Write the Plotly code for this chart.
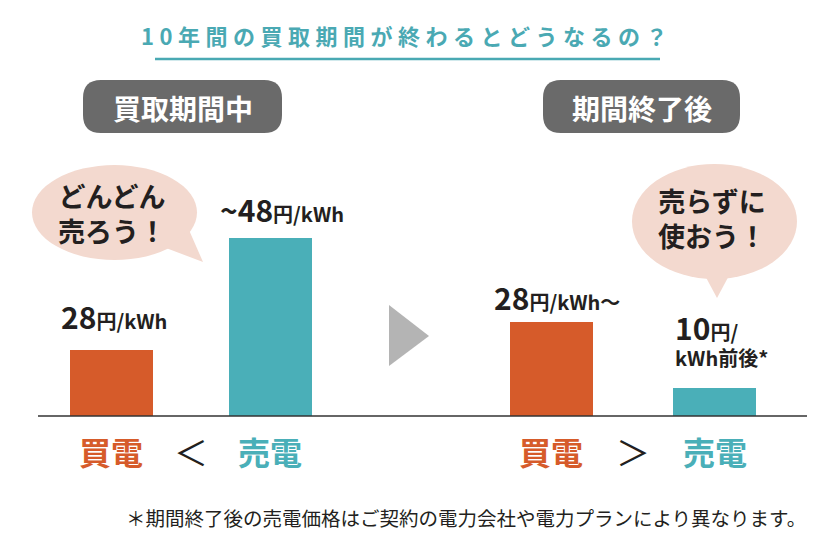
import plotly.graph_objects as go

W, H = 820, 544

# ---------------- data ----------------
categories = ["買電", "売電"]
during_values = [28, 48]      # 円/kWh, 買取期間中
after_values = [28, 10]       # 円/kWh, 期間終了後
bar_colors = ["#d65b2a", "#4aafb8"]
panel_titles = ["買取期間中", "期間終了後"]
bubble_texts = ["どんどん<br>売ろう！", "売らずに<br>使おう！"]
compare_signs = ["＜", "＞"]
title_text = "10年間の買取期間が終わるとどうなるの？"
footnote_text = "＊期間終了後の売電価格はご契約の電力会社や電力プランにより異なります。"

FONT = "Noto Sans CJK JP"
TEAL = "#4aa9b3"
DARK = "#231f20"


def X(px):
    return px / W


def Y(py):
    return 1 - py / H


def price_label(v, pre="", post="", second_line=None, pre_size=30):
    pre_html = f"<span style='font-size:{pre_size}px'>{pre}</span>" if pre else ""
    big = f"{pre_html}<span style='font-size:30px'>{v}</span>"
    if second_line:
        return f"<b>{big}円/</b><br><b>{second_line}</b>"
    return f"<b>{big}円/kWh{post}</b>"


fig = go.Figure()

panels = [
    dict(vals=during_values, xa="x", ya="y",
         labels=[price_label(during_values[0]), price_label(during_values[1], pre="~", pre_size=30)],
         xshift=[3, 12], yshift=[34, 29], anchor=["center", "center"], width=0.52),
    dict(vals=after_values, xa="x2", ya="y2",
         labels=[price_label(after_values[0], post="〜"),
                 price_label(after_values[1], second_line="kWh前後*")],
         xshift=[6, -41.5], yshift=[25, 50], anchor=["center", "left"], width=0.508),
]

annotations = []
for i, p in enumerate(panels):
    fig.add_trace(go.Bar(
        x=categories, y=p["vals"], marker=dict(color=bar_colors, line=dict(width=0)),
        width=p["width"], xaxis=p["xa"], yaxis=p["ya"], hoverinfo="skip", showlegend=False,
    ))
    for j, (c, v) in enumerate(zip(categories, p["vals"])):
        annotations.append(dict(
            x=c, y=v, xref=p["xa"], yref=p["ya"], text=p["labels"][j], showarrow=False,
            xanchor=p["anchor"][j], yanchor="middle", align="left",
            xshift=p["xshift"][j], yshift=p["yshift"][j],
            font=dict(family=FONT, size=20, color=DARK),
        ))
        annotations.append(dict(
            x=c, y=Y(451), xref=p["xa"], yref="paper", text=f"<b>{c}</b>", showarrow=False,
            xanchor="center", yanchor="middle",
            font=dict(family=FONT, size=32, color=bar_colors[j]),
        ))
    annotations.append(dict(
        x=0.5, y=Y(451), xref=p["xa"], yref="paper", text=compare_signs[i], showarrow=False,
        xanchor="center", yanchor="middle",
        font=dict(family=FONT, size=34, color=DARK),
    ))

# panel title pills
def rrect(x0, y0, x1, y1, r):
    pts = [
        ("M", [(x0 + r, y0)]), ("L", [(x1 - r, y0)]), ("Q", [(x1, y0), (x1, y0 + r)]),
        ("L", [(x1, y1 - r)]), ("Q", [(x1, y1), (x1 - r, y1)]), ("L", [(x0 + r, y1)]),
        ("Q", [(x0, y1), (x0, y1 - r)]), ("L", [(x0, y0 + r)]), ("Q", [(x0, y0), (x0 + r, y0)]),
    ]
    s = ""
    for cmd, cs in pts:
        s += cmd + " " + " ".join(f"{X(a):.5f},{Y(b):.5f}" for a, b in cs) + " "
    return s + "Z"


def poly(points):
    return "M " + " L ".join(f"{X(a):.5f},{Y(b):.5f}" for a, b in points) + " Z"


shapes = []
pill_boxes = [(83, 80, 282, 133), (543, 80, 740, 133)]
for (x0, y0, x1, y1), t in zip(pill_boxes, panel_titles):
    shapes.append(dict(type="path", xref="paper", yref="paper", path=rrect(x0, y0, x1, y1, 18),
                       fillcolor="#6a6a6a", line=dict(width=0)))
    annotations.append(dict(x=X((x0 + x1) / 2), y=Y((y0 + y1) / 2 + 1), xref="paper", yref="paper",
                            text=f"<b>{t}</b>", showarrow=False, xanchor="center", yanchor="middle",
                            font=dict(family=FONT, size=28, color="white")))

# speech bubbles
BUB = "#f3d9cf"
shapes.append(dict(type="circle", xref="paper", yref="paper", x0=X(32), x1=X(197), y0=Y(260), y1=Y(165),
                   fillcolor=BUB, line=dict(width=0)))
shapes.append(dict(type="path", xref="paper", yref="paper", path=poly([(166, 248), (203, 262), (189, 230)]),
                   fillcolor=BUB, line=dict(width=0)))
shapes.append(dict(type="circle", xref="paper", yref="paper", x0=X(632), x1=X(797), y0=Y(279), y1=Y(164),
                   fillcolor=BUB, line=dict(width=0)))
shapes.append(dict(type="path", xref="paper", yref="paper", path=poly([(702, 270), (717, 298), (732, 270)]),
                   fillcolor=BUB, line=dict(width=0)))
for (cx, cy), t in zip([(112, 213), (712, 218)], bubble_texts):
    annotations.append(dict(x=X(cx), y=Y(cy), xref="paper", yref="paper", text=f"<b>{t}</b>",
                            showarrow=False, xanchor="center", yanchor="middle",
                            font=dict(family=FONT, size=27, color=DARK)))

# arrow between panels
shapes.append(dict(type="path", xref="paper", yref="paper", path=poly([(389, 305), (429, 336), (389, 366)]),
                   fillcolor="#b4b4b4", line=dict(width=0)))

# baseline
shapes.append(dict(type="line", xref="paper", yref="paper", x0=X(38), x1=X(807), y0=Y(416), y1=Y(416),
                   line=dict(color="#333333", width=1.6)))

# title + underline
spaced_title = "\u2005".join(title_text)
annotations.append(dict(x=X(404), y=Y(35), xref="paper", yref="paper", text=f"<b>{spaced_title}</b>",
                        showarrow=False, xanchor="center", yanchor="middle",
                        font=dict(family=FONT, size=22, color=TEAL)))
shapes.append(dict(type="line", xref="paper", yref="paper", x0=X(155), x1=X(660), y0=Y(59), y1=Y(59),
                   line=dict(color=TEAL, width=2.5)))

# footnote
annotations.append(dict(x=X(466), y=Y(517), xref="paper", yref="paper", text=footnote_text,
                        showarrow=False, xanchor="center", yanchor="middle",
                        font=dict(family=FONT, size=19.5, color=DARK)))

ydom = [Y(416), Y(100)]
fig.update_layout(
    width=W, height=H, margin=dict(l=0, r=0, t=0, b=0),
    paper_bgcolor="white", plot_bgcolor="rgba(0,0,0,0)",
    bargap=0, showlegend=False,
    xaxis=dict(domain=[0, 0.5], range=[-0.700, 1.879], visible=False, fixedrange=True),
    xaxis2=dict(domain=[0.5, 1], range=[-0.865, 1.643], visible=False, fixedrange=True),
    yaxis=dict(domain=ydom, range=[16.21, 72.64], visible=False, anchor="x", fixedrange=True),
    yaxis2=dict(domain=ydom, range=[2.364, 88.54], visible=False, anchor="x2", fixedrange=True),
    shapes=shapes, annotations=annotations,
)

fig.write_html("out.html", config=dict(displayModeBar=False),
               post_script="document.body.style.margin='0';document.body.style.overflow='hidden';")
